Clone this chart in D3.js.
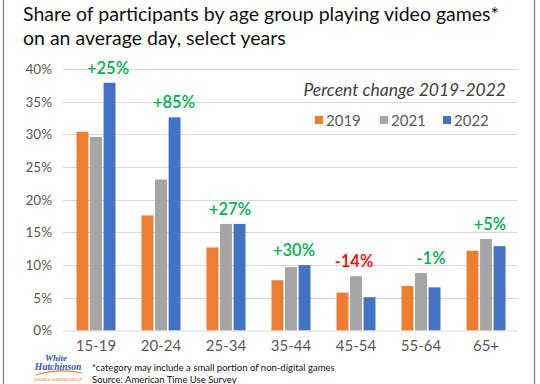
<!DOCTYPE html>
<html>
<head>
<meta charset="utf-8">
<script src="https://cdn.jsdelivr.net/npm/d3@7"></script>
<style>
  html, body { margin: 0; padding: 0; background: #fff; }
  svg { display: block; }
</style>
</head>
<body>
<svg id="chart" width="540" height="384"></svg>
<script>
const categories = ["15-19", "20-24", "25-34", "35-44", "45-54", "55-64", "65+"];
const years = ["2019", "2021", "2022"];
const values2019 = [30.4, 17.6, 12.7, 7.7, 5.8, 6.8, 12.2];
const values2021 = [29.6, 23.1, 16.3, 9.7, 8.3, 8.8, 14.0];
const values2022 = [37.9, 32.6, 16.3, 10.0, 5.1, 6.6, 12.9];
const changeLabels = ["+25%", "+85%", "+27%", "+30%", "-14%", "-1%", "+5%"];
const yTicks = [0, 5, 10, 15, 20, 25, 30, 35, 40];

const colors = ["#ED7D31", "#A5A5A5", "#4472C4"];
const series = [values2019, values2021, values2022];

const svg = d3.select("#chart");
const W = 540, H = 384;

// frame lines
svg.append("line").attr("x1", 3.5).attr("x2", 3.5).attr("y1", 0).attr("y2", H)
  .attr("stroke", "#7a7a7a").attr("stroke-width", 1.2);
svg.append("line").attr("x1", 534.5).attr("x2", 534.5).attr("y1", 0).attr("y2", H)
  .attr("stroke", "#7a7a7a").attr("stroke-width", 1.2);

// title
const title = svg.append("text").attr("x", 23).attr("font-family", "Lato, 'Open Sans', sans-serif")
  .attr("font-size", 19.5).attr("fill", "#111");
title.append("tspan").attr("x", 23).attr("y", 21).text("Share of participants by age group playing video games*");
title.append("tspan").attr("x", 23).attr("y", 45).text("on an average day, select years");

const x0 = d3.scaleBand().domain(categories).range([63.5, 518.5]).paddingInner(0.4).paddingOuter(0.2);
const x1 = d3.scaleBand().domain(years).range([0, x0.bandwidth()]).paddingInner(0.12);
const y = d3.scaleLinear().domain([0, 40]).range([330.5, 69]);

// gridlines
svg.append("g").selectAll("line").data(yTicks.filter(d => d > 0)).join("line")
  .attr("x1", 63).attr("x2", 518)
  .attr("y1", d => Math.round(y(d)) + 0.5).attr("y2", d => Math.round(y(d)) + 0.5)
  .attr("stroke", "#d9d9d9").attr("stroke-width", 1);

// y axis labels
const yAxis = d3.axisLeft(y).tickValues(yTicks).tickFormat(d => d + "%").tickSize(0).tickPadding(0);
const gy = svg.append("g").attr("transform", "translate(52,0)").call(yAxis);
gy.select(".domain").remove();
gy.selectAll("text").attr("font-family", "Lato, 'Open Sans', sans-serif").attr("font-size", 13.5).attr("fill", "#595959");

// bars
const groups = svg.append("g").selectAll("g").data(categories).join("g")
  .attr("transform", d => `translate(${x0(d)},0)`);
groups.selectAll("rect").data((d, i) => years.map((yr, j) => ({ yr, v: series[j][i], j }))).join("rect")
  .attr("x", d => x1(d.yr))
  .attr("width", x1.bandwidth())
  .attr("y", d => y(d.v))
  .attr("height", d => y(0) - y(d.v))
  .attr("fill", d => colors[d.j]);

// x axis
const xAxis = d3.axisBottom(x0).tickSize(0).tickPadding(10);
const gx = svg.append("g").attr("transform", `translate(0,${y(0)})`).call(xAxis);
gx.select(".domain").attr("d", "M63,0.5H518").attr("stroke", "#d9d9d9");
gx.selectAll("text").attr("font-family", "Lato, 'Open Sans', sans-serif").attr("font-size", 15).attr("fill", "#595959");

// percent change labels
const labelDx = [12, 13, 4, 3, -2, 10, 4];
svg.append("g").selectAll("text").data(categories).join("text")
  .attr("x", (d, i) => x0(d) + x0.bandwidth() / 2 + labelDx[i])
  .attr("y", (d, i) => y(Math.max(values2019[i], values2021[i], values2022[i])) - 9)
  .attr("text-anchor", "middle")
  .attr("font-family", "Lato, 'Open Sans', sans-serif").attr("font-size", 16.5).attr("font-weight", 600)
  .attr("fill", (d, i) => changeLabels[i] === "-14%" ? "#FF0000" : "#00B050")
  .text((d, i) => changeLabels[i]);

// legend
svg.append("rect").attr("x", 298).attr("y", 76).attr("width", 215).attr("height", 24).attr("fill", "#fff");
svg.append("text").attr("x", 506).attr("y", 96).attr("text-anchor", "end")
  .attr("font-family", "Lato, 'Open Sans', sans-serif").attr("font-style", "italic").attr("font-size", 17.5)
  .attr("fill", "#404040").text("Percent change 2019-2022");
svg.append("rect").attr("x", 305).attr("y", 110).attr("width", 205).attr("height", 20).attr("fill", "#fff");
const legX = [315, 380, 443];
const leg = svg.append("g").selectAll("g").data(years).join("g")
  .attr("transform", (d, i) => `translate(${legX[i]},0)`);
leg.append("rect").attr("x", 0).attr("y", 116).attr("width", 8).attr("height", 8).attr("fill", (d, i) => colors[i]);
leg.append("text").attr("x", 11).attr("y", 126)
  .attr("font-family", "Lato, 'Open Sans', sans-serif").attr("font-size", 15).attr("fill", "#595959").text(d => d);

// footnote
const foot = svg.append("text").attr("font-family", "Lato, 'Open Sans', sans-serif").attr("font-size", 9.5).attr("fill", "#111");
foot.append("tspan").attr("x", 92).attr("y", 371).text("*category may include a small portion of non-digital games");
foot.append("tspan").attr("x", 92).attr("y", 382.5).text("Source: American Time Use Survey");

// logo approximation
const logo = svg.append("g");
logo.append("text").attr("x", 56).attr("y", 361).attr("text-anchor", "middle")
  .attr("font-family", "'Liberation Serif', serif").attr("font-style", "italic").attr("font-weight", "bold")
  .attr("font-size", 9).attr("fill", "#2e5aa8").text("White");
logo.append("text").attr("x", 58).attr("y", 370).attr("text-anchor", "middle")
  .attr("font-family", "'Liberation Serif', serif").attr("font-style", "italic").attr("font-weight", "bold")
  .attr("font-size", 9.5).attr("fill", "#2e5aa8").text("Hutchinson");
logo.append("path").attr("d", "M36,375 Q58,368 82,373").attr("fill", "none").attr("stroke", "#ED7D31").attr("stroke-width", 1.2);
logo.append("text").attr("x", 58).attr("y", 381).attr("text-anchor", "middle")
  .attr("font-family", "Lato, sans-serif").attr("font-size", 3.5).attr("fill", "#ED7D31").text("LEISURE & LEARNING GROUP");
</script>
</body>
</html>
